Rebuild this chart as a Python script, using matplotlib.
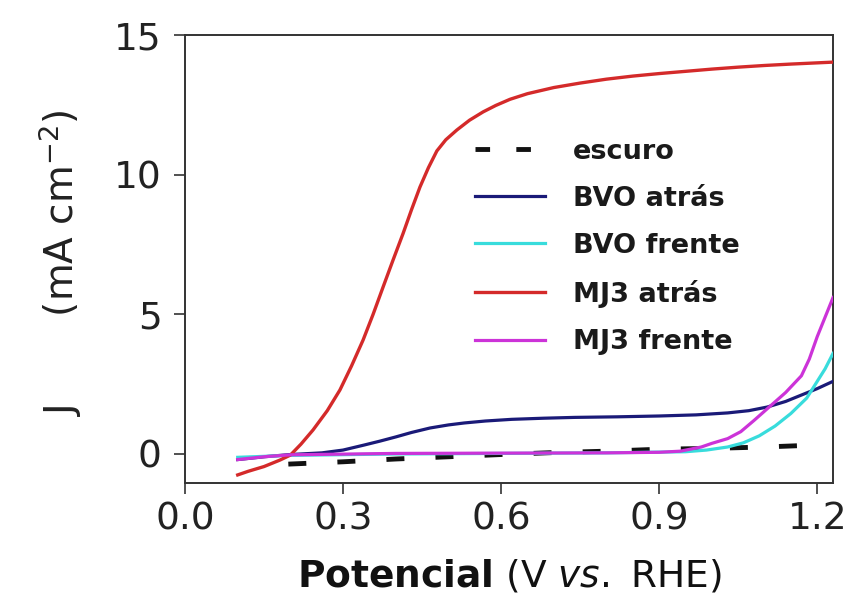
import numpy as np
import matplotlib
matplotlib.use("Agg")
import matplotlib.pyplot as plt

# 电位 (V vs. RHE) 与光电流密度 J (mA cm^-2)
x_escuro = [0.15, 0.20, 0.30, 0.40, 0.50, 0.60, 0.70, 0.80, 0.90, 1.00, 1.10, 1.17]
j_escuro = [-0.40, -0.36, -0.28, -0.18, -0.10, -0.02, 0.05, 0.10, 0.17, 0.20, 0.25, 0.30]

x_bvo_atras = [0.10, 0.15, 0.20, 0.26, 0.30, 0.34, 0.37, 0.40, 0.43, 0.465, 0.50, 0.53, 0.57,
               0.62, 0.68, 0.74, 0.82, 0.90, 0.97, 1.03, 1.07, 1.105, 1.14, 1.17, 1.20, 1.23]
j_bvo_atras = [-0.20, -0.10, -0.02, 0.04, 0.14, 0.32, 0.46, 0.61, 0.77, 0.93, 1.04, 1.11, 1.18,
               1.24, 1.28, 1.31, 1.33, 1.36, 1.40, 1.47, 1.55, 1.68, 1.88, 2.11, 2.34, 2.60]

x_bvo_frente = [0.10, 0.20, 0.40, 0.60, 0.80, 0.95, 0.99, 1.03, 1.06, 1.09, 1.12, 1.15,
                1.18, 1.20, 1.215, 1.23]
j_bvo_frente = [-0.12, -0.05, 0.00, 0.02, 0.04, 0.08, 0.14, 0.25, 0.40, 0.65, 1.00, 1.45,
                2.00, 2.60, 3.05, 3.60]

x_mj3_atras = [0.10, 0.12, 0.15, 0.18, 0.20, 0.22, 0.243, 0.27, 0.294, 0.316, 0.338, 0.357,
               0.376, 0.395, 0.414, 0.43, 0.446, 0.462, 0.478, 0.495, 0.516, 0.54, 0.566,
               0.59, 0.617, 0.65, 0.70, 0.75, 0.80, 0.85, 0.90, 0.95, 1.00, 1.05, 1.10,
               1.15, 1.23]
j_mj3_atras = [-0.75, -0.62, -0.45, -0.22, -0.04, 0.35, 0.86, 1.55, 2.29, 3.15, 4.08, 5.00,
               5.98, 6.95, 7.90, 8.75, 9.56, 10.25, 10.85, 11.25, 11.60, 11.95, 12.25,
               12.48, 12.70, 12.90, 13.12, 13.28, 13.42, 13.53, 13.62, 13.70, 13.78, 13.85,
               13.91, 13.96, 14.03]

x_mj3_frente = [0.10, 0.15, 0.20, 0.40, 0.60, 0.80, 0.90, 0.94, 0.98, 1.00, 1.03, 1.055,
                1.08, 1.11, 1.14, 1.17, 1.185, 1.20, 1.215, 1.23]
j_mj3_frente = [-0.20, -0.10, -0.03, 0.02, 0.03, 0.04, 0.06, 0.10, 0.25, 0.38, 0.55, 0.80,
                1.20, 1.70, 2.20, 2.80, 3.40, 4.20, 4.90, 5.60]

plt.rcParams["font.family"] = ["DejaVu Sans"]
plt.rcParams["mathtext.default"] = "regular"

fig = plt.figure(figsize=(8.55, 6.04), dpi=100)
ax = fig.add_axes([0.2164, 0.2003, 0.7579, 0.7417])

ax.plot(x_escuro, j_escuro, color="#111111", linewidth=3.5,
        linestyle=(5.1, (3.7, 6.4)), label="escuro", zorder=3)
ax.plot(x_bvo_atras, j_bvo_atras, color="#1a1a78", linewidth=2.3, label="BVO atrás", zorder=4)
ax.plot(x_bvo_frente, j_bvo_frente, color="#38dcdc", linewidth=2.3, label="BVO frente", zorder=4)
ax.plot(x_mj3_atras, j_mj3_atras, color="#d42a2a", linewidth=2.4, label="MJ3 atrás", zorder=5)
ax.plot(x_mj3_frente, j_mj3_frente, color="#cc33d8", linewidth=2.3, label="MJ3 frente", zorder=5)

ax.set_xlim(0.0, 1.23)
ax.set_ylim(-1.04, 15.0)
ax.set_xticks([0.0, 0.3, 0.6, 0.9, 1.2])
ax.set_yticks([0, 5, 10, 15])
ax.set_xticklabels(["0.0", "0.3", "0.6", "0.9", "1.2"])

for s in ax.spines.values():
    s.set_linewidth(1.4)
    s.set_color("#333333")
ax.tick_params(axis="both", direction="out", length=8, width=1.2,
               color="#333333", labelsize=27, labelcolor="#222222")
ax.tick_params(axis="y", pad=9)
ax.tick_params(axis="x", pad=5)

ax.set_ylabel("J       (mA cm$^{-2}$)", fontsize=28, color="#222222")
ax.yaxis.set_label_coords(-0.156, 0.492)
ax.set_xlabel(r"$\bf{Potencial}$ (V $\it{vs.}$ RHE)", fontsize=27, color="#111111", labelpad=15)

leg = ax.legend(loc="upper left", bbox_to_anchor=(0.4475, 0.769), frameon=False,
                prop={"weight": "bold", "size": 19.5}, handlelength=2.6,
                handletextpad=1.0, labelspacing=0.78, borderpad=0, borderaxespad=0)
# 图例中的暗电流短划线单独设定相位，显示两段
leg.get_lines()[0].set_linestyle((0, (3.0, 5.4)))
for t in leg.get_texts():
    t.set_color("#1a1a1a")

fig.savefig("out.png", dpi=100)
